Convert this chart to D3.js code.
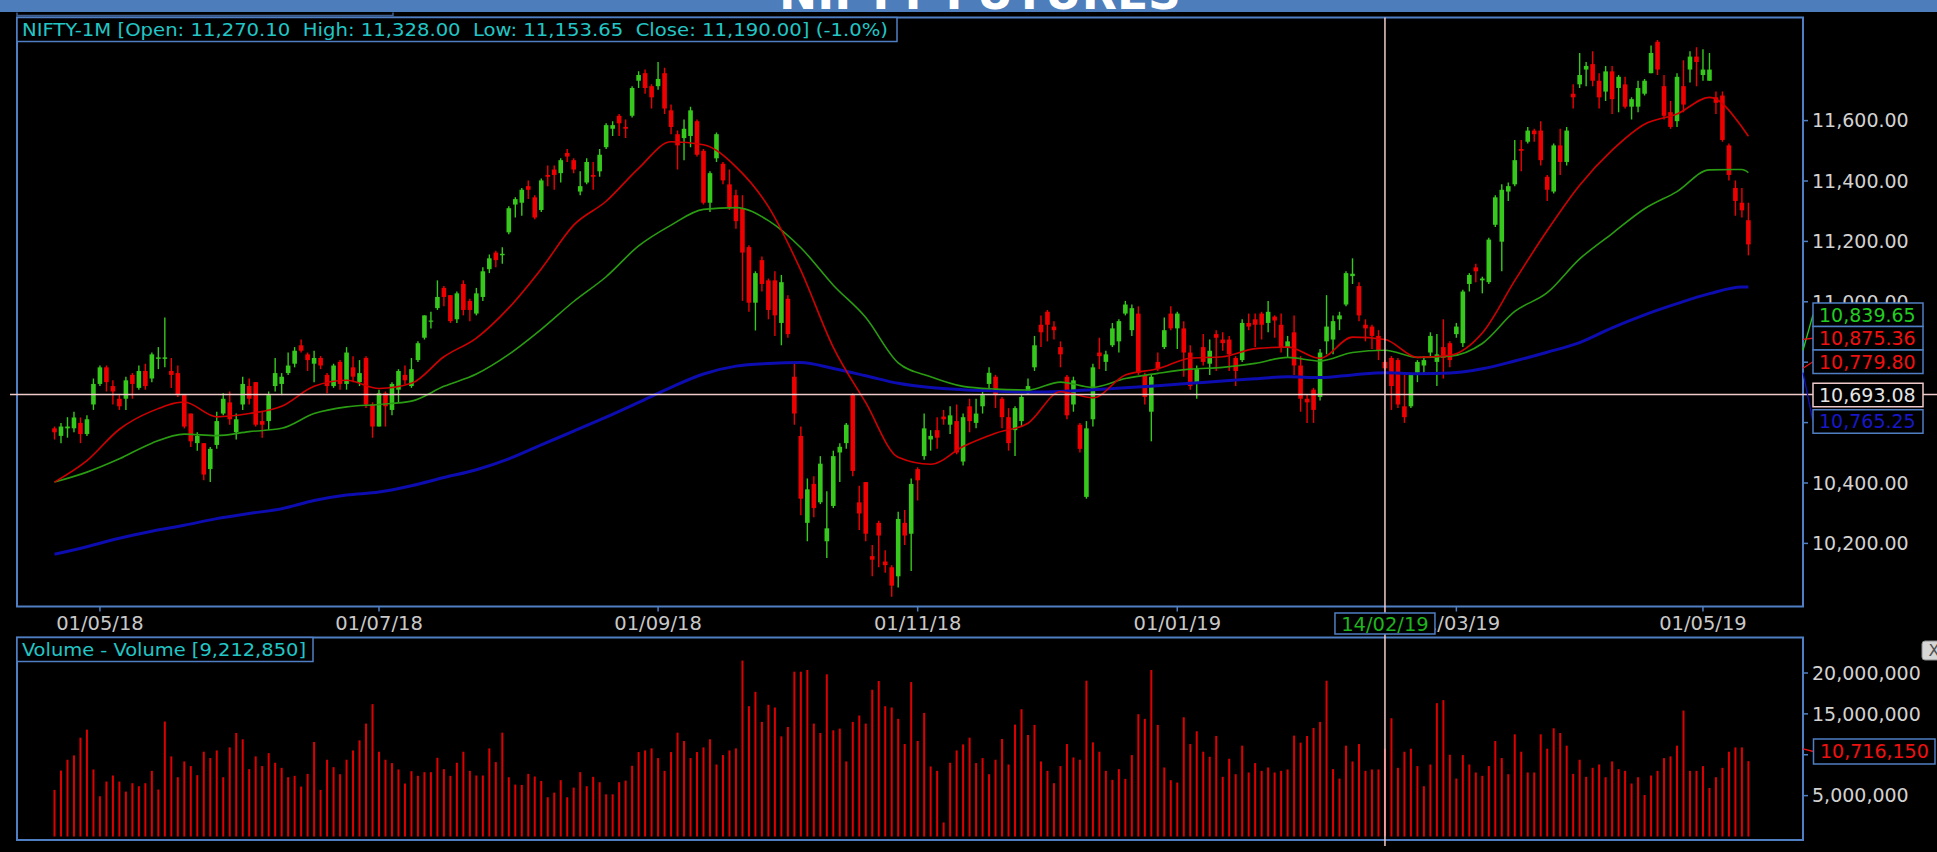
<!DOCTYPE html>
<html><head><meta charset="utf-8">
<script src="https://cdn.jsdelivr.net/npm/d3@7"></script>
<style>html,body{margin:0;padding:0;background:#000;overflow:hidden}</style>
</head><body>
<svg id="c" width="1937" height="852"></svg>
<script>
// ---------------- DATA ----------------
const opens = [10581,10556,10581,10581,10599,10562,10660,10728,10783,10721,10679,10679,10758,10715,10771,10746,10811,10811,10771,10764,10691,10630,10532,10532,10446,10526,10630,10667,10568,10660,10721,10734,10605,10605,10721,10728,10764,10795,10856,10826,10795,10814,10758,10721,10801,10728,10783,10734,
10814,10660,10587,10697,10642,10709,10758,10721,10807,10881,10934,10979,11046,11022,10942,11059,11003,10961,11016,11108,11163,11154,11230,11322,11328,11383,11346,11304,11420,11438,11426,11493,11469,11365,11395,11420,11432,11512,11573,11616,11579,11616,11732,11757,11714,11714,11757,
11634,11555,11542,11549,11598,11500,11328,11475,11457,11389,11353,11310,11181,10997,11138,11071,11071,10930,11010,10752,10556,10268,10397,10336,10207,10324,10501,10532,10691,10336,10403,10158,10268,10140,10121,10091,10268,10232,10446,10489,10544,10575,10620,10593,10605,10471,10654,10599,
10654,10728,10752,10679,10618,10575,10605,10697,10783,10924,10967,10918,10850,10752,10660,10593,10354,10611,10832,10801,10856,10869,10961,10906,10961,10758,10636,10801,10850,10961,10912,10912,10832,10734,10850,10795,10893,10875,10875,10814,10807,10930,10942,10961,10930,10951,10924,10850,
10899,10789,10679,10709,10685,10869,10875,10942,10991,11085,11052,10924,10918,10887,10801,10814,10807,10654,10654,10765,10789,10832,10801,10850,10863,10893,10863,11059,11114,11071,11065,11255,11199,11365,11389,11506,11530,11567,11567,11414,11365,11518,11463,11689,11720,11769,11787,
11732,11696,11763,11708,11720,11646,11646,11689,11757,11861,11714,11628,11598,11714,11769,11812,11751,11732,11677,11683,11518,11377,11328,11270.10];
const highs = [10587,10599,10618,10636,10617,10624,10746,10789,10789,10740,10691,10752,10764,10789,10795,10832,10850,10948,10814,10789,10691,10630,10568,10532,10519,10636,10697,10703,10630,10752,10746,10734,10636,10703,10814,10764,10832,10850,10875,10832,10838,10820,10764,10795,10807,10850,10820,10807,
10820,10667,10709,10703,10734,10777,10789,10814,10869,10955,10967,11071,11052,11022,11034,11071,11010,11046,11114,11157,11169,11181,11316,11346,11377,11402,11353,11408,11451,11451,11475,11506,11475,11432,11475,11463,11506,11591,11598,11622,11604,11714,11763,11769,11720,11794,11775,
11653,11567,11604,11646,11604,11506,11432,11561,11463,11438,11371,11353,11187,11101,11150,11077,11101,11089,11022,10801,10587,10415,10422,10489,10373,10507,10532,10599,10697,10391,10403,10195,10275,10177,10128,10305,10311,10415,10452,10630,10575,10618,10642,10654,10660,10630,10679,10679,
10709,10783,10758,10685,10648,10654,10691,10746,10887,10955,10973,10936,10869,10758,10752,10599,10605,10795,10881,10838,10930,10942,11003,10991,10985,10765,10758,10832,10948,10985,10967,10936,10856,10789,10893,10875,10906,10899,10887,10820,10942,10961,10961,10967,11003,10955,10961,10887,
10955,10820,10691,10715,10844,11022,10955,10967,11101,11144,11065,10942,10924,10906,10807,10820,10814,10758,10758,10807,10820,10899,10893,10942,10869,10930,11040,11095,11126,11083,11212,11353,11389,11395,11536,11536,11579,11573,11598,11420,11524,11573,11579,11720,11824,11794,11830,
11757,11781,11781,11751,11745,11677,11732,11738,11849,11867,11751,11665,11757,11800,11830,11843,11836,11824,11696,11696,11524,11402,11377,11328];
const lows = [10544,10532,10550,10568,10532,10556,10642,10721,10703,10660,10642,10642,10679,10709,10709,10734,10777,10783,10715,10685,10581,10519,10507,10409,10403,10513,10624,10593,10544,10642,10660,10587,10550,10575,10703,10691,10758,10783,10832,10771,10734,10777,10697,10715,10709,10709,10734,10721,
10648,10550,10587,10587,10624,10667,10728,10715,10801,10875,10912,10973,10985,10930,10930,10955,10936,10955,11003,11095,11114,11126,11224,11279,11285,11340,11273,11297,11383,11371,11395,11463,11426,11353,11389,11371,11414,11506,11549,11549,11542,11610,11708,11689,11640,11702,11622,
11555,11438,11469,11512,11481,11322,11297,11463,11389,11304,11242,11003,10967,10905,11034,10942,10887,10856,10881,10593,10293,10207,10287,10330,10152,10317,10403,10513,10422,10244,10207,10091,10121,10103,10023,10054,10195,10109,10342,10477,10507,10513,10593,10562,10495,10458,10568,10581,
10630,10709,10648,10581,10507,10489,10587,10691,10771,10850,10869,10875,10783,10611,10636,10501,10348,10587,10777,10771,10850,10832,10955,10887,10758,10660,10538,10771,10844,10906,10844,10752,10709,10679,10789,10758,10771,10838,10771,10721,10801,10906,10850,10875,10899,10881,10832,10814,
10758,10636,10599,10599,10673,10826,10826,10906,10985,11059,10936,10869,10844,10807,10775,10642,10648,10599,10648,10734,10765,10820,10721,10746,10783,10881,10850,11034,11065,11028,11059,11248,11101,11334,11383,11432,11524,11530,11451,11334,11359,11420,11451,11640,11708,11714,11714,
11640,11665,11622,11628,11640,11604,11628,11683,11757,11751,11604,11573,11579,11628,11726,11714,11732,11732,11622,11530,11402,11285,11279,11153.65];
const closes = [10568,10587,10587,10617,10562,10611,10728,10783,10734,10703,10654,10740,10728,10771,10721,10826,10816,10816,10758,10691,10587,10538,10556,10428,10513,10605,10679,10611,10611,10728,10679,10593,10593,10691,10764,10752,10789,10838,10838,10807,10814,10789,10721,10789,10728,10832,10752,10764,
10660,10587,10697,10654,10728,10771,10740,10777,10863,10955,10938,11016,11016,10936,11028,10973,10973,11028,11101,11144,11138,11159,11310,11340,11371,11371,11279,11402,11414,11420,11469,11481,11438,11383,11463,11414,11487,11585,11585,11591,11573,11708,11751,11708,11677,11738,11640,
11579,11518,11573,11634,11487,11328,11426,11555,11402,11310,11267,11163,10997,11095,11059,10973,10955,11065,10893,10630,10348,10379,10317,10464,10250,10489,10520,10593,10440,10299,10232,10146,10226,10128,10060,10281,10226,10397,10409,10581,10556,10550,10611,10624,10501,10618,10605,10630,
10691,10765,10691,10618,10532,10648,10685,10721,10856,10899,10924,10906,10826,10624,10740,10513,10581,10783,10820,10826,10912,10936,10991,10979,10765,10685,10752,10777,10906,10912,10961,10832,10721,10777,10801,10838,10881,10863,10826,10771,10930,10918,10924,10924,10967,10938,10850,10869,
10789,10679,10667,10642,10832,10918,10936,10955,11095,11093,10955,10912,10887,10838,10779.80,10721,10660,10618,10758,10801,10807,10887,10826,10814,10807,10918,11034,11089,11101,11077,11206,11346,11371,11383,11469,11500,11567,11555,11469,11371,11518,11463,11567,11677,11751,11781,11732,
11677,11763,11671,11745,11646,11671,11708,11732,11824,11769,11616,11579,11745,11653,11812,11794,11769,11769,11659,11536,11420,11334,11303,11190];
// volume in millions of contracts
const volumeM = [5.70,8.07,9.39,9.92,12.09,13.07,8.20,4.92,6.72,7.46,6.72,5.49,6.52,6.15,6.52,8.03,5.74,14.06,9.80,7.25,
9.18,8.61,7.50,10.37,9.59,10.53,7.25,10.90,12.66,11.89,8.24,9.80,8.61,10.20,9.02,8.40,7.25,7.42,6.11,7.66,
11.56,5.70,9.39,8.48,7.62,9.39,10.53,11.76,13.81,16.19,10.37,9.39,8.98,8.20,6.48,7.99,7.42,7.87,7.87,9.63,
8.24,7.42,9.02,10.37,8.03,7.46,7.46,10.78,9.10,12.70,7.25,6.35,6.31,7.66,7.34,6.80,4.80,5.37,6.89,4.80,
5.98,7.87,6.15,7.30,6.64,5.16,5.16,6.64,6.84,8.65,10.33,10.53,10.78,9.59,8.03,10.33,12.70,11.68,9.59,10.33,
10.90,11.89,8.81,9.96,10.53,10.78,21.52,15.94,17.70,14.02,16.11,15.78,12.25,13.40,20.16,20.16,20.37,13.81,12.66,19.84,
12.99,13.20,9.18,14.02,14.80,13.81,17.95,19.02,15.94,15.78,14.39,11.31,18.89,11.68,15.12,8.57,8.03,1.72,9.02,10.53,
11.27,12.09,8.98,9.59,7.62,9.39,11.93,8.81,13.69,15.57,12.42,13.65,9.18,8.03,6.52,8.61,11.31,9.67,9.39,19.06,
11.52,10.37,8.03,6.93,8.24,7.05,9.96,14.96,14.39,20.37,13.65,8.44,6.89,6.60,14.59,11.31,12.87,10.37,9.75,12.30,
7.30,9.51,7.62,11.11,7.83,8.98,8.03,8.44,7.83,8.03,8.20,12.34,11.48,12.30,13.28,14.02,19.06,8.24,7.09,11.11,
9.18,11.31,8.03,8.20,8.20,10.71615,14.47,8.40,10.37,10.74,8.61,6.15,8.81,16.31,16.68,10.00,7.09,9.96,8.81,7.83,
7.42,8.61,11.68,9.59,7.62,12.50,10.37,7.83,7.83,12.50,10.74,13.24,12.66,11.11,7.66,9.39,7.30,8.40,8.81,7.25,
9.18,8.24,8.03,6.48,7.25,5.08,7.46,8.03,9.59,9.80,11.11,15.41,8.03,8.03,8.61,5.94,7.25,8.40,10.37,10.90,
10.90,9.21285];
// moving averages read at every 5th candle
const maIdx = [0,5,10,15,20,25,30,35,40,45,50,55,60,65,70,75,80,85,90,95,100,105,110,115,120,125,130,135,140,145,150,155,160,165,170,175,180,185,190,195,200,205,210,215,220,225,230,235,240,245,250,255,260,261];
const maRed = [10403,10474,10578,10638,10668,10619,10630,10654,10720,10740,10713,10730,10818,10880,10980,11109,11254,11333,11442,11530,11520,11447,11315,11104,10849,10666,10485,10462,10521,10565,10598,10702,10682,10758,10778,10813,10818,10845,10850,10813,10883,10875.36,10816,10823,10897,11070,11236,11386,11502,11588,11622,11677,11579,11548];
const maGreen = [10403,10436,10480,10532,10562,10557,10570,10581,10630,10652,10660,10671,10720,10761,10826,10909,11001,11083,11185,11254,11306,11312,11269,11179,11055,10948,10798,10752,10720,10711,10708,10734,10717,10746,10763,10777,10783,10796,10816,10804,10832,10839.65,10816,10820,10862,10968,11030,11142,11226,11308,11365,11437,11438,11428];
const maBlue = [10164,10189,10217,10240,10260,10282,10299,10315,10342,10360,10370,10391,10418,10444,10480,10526,10572,10618,10667,10717,10761,10787,10796,10799,10779,10755,10730,10716,10709,10705,10701,10703,10709,10715,10722,10730,10738,10745,10752,10749,10758,10765.25,10762,10764,10778,10804,10833,10865,10914,10957,10994,11027,11049,11049];
const priceTicks = [10200,10400,10600,10800,11000,11200,11400,11600];
const volTicksM = [5,10,15,20];
const dateTickIdx = [7,50,93,133,173,216,254];
const dateTickLbl = ["01/05/18","01/07/18","01/09/18","01/11/18","01/01/19","01/03/19","01/05/19"];
const crossIdx = 205, crossPrice = 10693.08, crossDate = "14/02/19";
const title = "NIFTY FUTURES", symbol = "NIFTY-1M";

// ---------------- DRAWING ----------------
const W = 1937, H = 852;
const col = {bar:"#4d7dba", border:"#4f7fc2", up:"#36c81c", down:"#ee0000",
  maRed:"#d00000", maGreen:"#2a9c12", maBlue:"#0c0cb0", txt:"#d2d2d2",
  cyan:"#22c6c6", cross:"#f0caca", vol:"#dc0000"};
const P = {l:17, r:1803, t:17.5, b:606.5};
const V = {l:17, r:1803, t:637.5, b:840};
const n = closes.length;
const fmt2 = d3.format(",.2f"), fmt0 = d3.format(",");
const svg = d3.select("#c");
svg.append("rect").attr("width",W).attr("height",H).attr("fill","#000");

const x = d3.scaleLinear().domain([0, n-1]).range([54.5, 1748.4]);
const y = d3.scaleLinear().domain([10200, 11600]).range([543.4, 120.6]);
const yv = d3.scaleLinear().domain([0, 20]).range([836.5, 673]);

// top bar + title
svg.append("rect").attr("x",0).attr("y",0).attr("width",W).attr("height",12).attr("fill",col.bar);
svg.append("text").attr("x",980).attr("y",8.6).attr("text-anchor","middle")
  .attr("font-family","DejaVu Sans, Verdana, sans-serif").attr("font-weight","bold")
  .attr("font-size",44).attr("fill","#fff").attr("textLength",402).attr("lengthAdjust","spacingAndGlyphs").text(title);
svg.append("path").attr("d","M17,12.5V15.5H393V12.5").attr("fill","none").attr("stroke","#3f5f90").attr("stroke-width",1.5);

// panels
svg.append("rect").attr("x",P.l).attr("y",P.t).attr("width",P.r-P.l).attr("height",P.b-P.t)
  .attr("fill","#000").attr("stroke",col.border).attr("stroke-width",2);
svg.append("rect").attr("x",V.l).attr("y",V.t).attr("width",V.r-V.l).attr("height",V.b-V.t)
  .attr("fill","#000").attr("stroke",col.border).attr("stroke-width",2);
const defs = svg.append("defs");
defs.append("clipPath").attr("id","pc").append("rect").attr("x",P.l+1).attr("y",P.t+1).attr("width",P.r-P.l-2).attr("height",P.b-P.t-2);
defs.append("clipPath").attr("id","vc").append("rect").attr("x",V.l+1).attr("y",V.t+1).attr("width",V.r-V.l-2).attr("height",V.b-V.t-2);

const font = "DejaVu Sans, Verdana, sans-serif";
// price axis
priceTicks.forEach(t => {
  svg.append("line").attr("x1",P.r).attr("x2",P.r+5).attr("y1",y(t)).attr("y2",y(t)).attr("stroke",col.border).attr("stroke-width",1.5);
  svg.append("text").attr("x",1812).attr("y",y(t)).attr("dy","0.36em").attr("font-family",font).attr("font-size",19)
    .attr("fill",col.txt).text(fmt2(t));
});
// date axis
dateTickIdx.forEach((d,k) => {
  svg.append("line").attr("x1",x(d)).attr("x2",x(d)).attr("y1",P.b).attr("y2",P.b+5).attr("stroke",col.border).attr("stroke-width",1.5);
  svg.append("text").attr("x",x(d)).attr("y",630).attr("text-anchor","middle").attr("font-family",font).attr("font-size",19.5)
    .attr("fill","#c8c8c8").text(dateTickLbl[k]);
});

// candles
const cg = svg.append("g").attr("clip-path","url(#pc)");
const idx = d3.range(n);
const cc = i => closes[i] >= opens[i] ? col.up : col.down;
cg.selectAll("line.w").data(idx).join("line").attr("class","w")
  .attr("x1",i=>x(i)).attr("x2",i=>x(i)).attr("y1",i=>y(highs[i])).attr("y2",i=>y(lows[i]))
  .attr("stroke",cc).attr("stroke-width",1.4);
cg.selectAll("rect.b").data(idx).join("rect").attr("class","b")
  .attr("x",i=>x(i)-2.3).attr("width",4.6)
  .attr("y",i=>y(Math.max(opens[i],closes[i])))
  .attr("height",i=>Math.max(1.2, Math.abs(y(opens[i])-y(closes[i]))))
  .attr("fill",cc);

// moving averages
const mline = arr => d3.line().x((d,k)=>x(maIdx[k])).y(d=>y(d)).curve(d3.curveMonotoneX)(arr);
cg.append("path").attr("d",mline(maBlue)).attr("fill","none").attr("stroke",col.maBlue).attr("stroke-width",3);
cg.append("path").attr("d",mline(maGreen)).attr("fill","none").attr("stroke",col.maGreen).attr("stroke-width",1.6);
cg.append("path").attr("d",mline(maRed)).attr("fill","none").attr("stroke",col.maRed).attr("stroke-width",1.6);

// volume
const vg = svg.append("g").attr("clip-path","url(#vc)");
vg.selectAll("rect").data(idx).join("rect")
  .attr("x",i=>x(i)-1).attr("width",2).attr("y",i=>yv(volumeM[i])).attr("height",i=>yv(0)-yv(volumeM[i])).attr("fill",col.vol);
volTicksM.forEach(t => {
  svg.append("line").attr("x1",V.r).attr("x2",V.r+5).attr("y1",yv(t)).attr("y2",yv(t)).attr("stroke",col.border).attr("stroke-width",1.5);
  svg.append("text").attr("x",1812).attr("y",yv(t)).attr("dy","0.36em").attr("font-family",font).attr("font-size",19)
    .attr("fill",col.txt).text(fmt0(t*1e6));
});

// crosshair
const cx = x(crossIdx), cy = y(crossPrice);
svg.append("line").attr("x1",cx).attr("x2",cx).attr("y1",P.t).attr("y2",846).attr("stroke",col.cross).attr("stroke-width",1.5);
svg.append("line").attr("x1",10).attr("x2",W).attr("y1",cy).attr("y2",cy).attr("stroke",col.cross).attr("stroke-width",1.5);

// crosshair date box
svg.append("rect").attr("x",cx-50).attr("y",613).attr("width",100).attr("height",21).attr("fill","#000").attr("stroke",col.border).attr("stroke-width",1.5);
svg.append("text").attr("x",cx).attr("y",623.5).attr("dy","0.36em").attr("text-anchor","middle").attr("font-family",font).attr("font-size",19.5)
  .attr("fill","#1fb41f").text(crossDate);

// value boxes at crosshair
const k205 = maIdx.indexOf(crossIdx);
const boxH = 23.5, bx = 1813, bw = 110;
const stack = [
  {v: maGreen[k205], c: "#22cc22", lc: "#22cc22"},
  {v: maRed[k205], c: "#ee1111", lc: "#ee1111"},
  {v: closes[crossIdx], c: "#ee1111", lc: "#ee1111"}
];
const stackBottom = 373.5;
stack.forEach((s,k) => { s.top = stackBottom - (stack.length-k)*boxH; });
const crossTop = cy - boxH/2 + 0.5;
const blueBox = {v: maBlue[k205], c: "#1818c8", lc: "#1010c0", top: crossTop + boxH + 3};
[...stack, blueBox].forEach(s => {
  svg.append("line").attr("x1",P.r).attr("y1",y(s.v)).attr("x2",bx).attr("y2",s.top+boxH/2).attr("stroke",s.lc).attr("stroke-width",1.3);
});
[...stack, blueBox].forEach(s => {
  svg.append("rect").attr("x",bx).attr("y",s.top).attr("width",bw).attr("height",boxH).attr("fill","#000").attr("stroke",col.border).attr("stroke-width",1.5);
  svg.append("text").attr("x",bx+6).attr("y",s.top+boxH/2).attr("dy","0.36em").attr("font-family",font).attr("font-size",19).attr("fill",s.c).text(fmt2(s.v));
});
svg.append("rect").attr("x",bx).attr("y",crossTop).attr("width",bw).attr("height",boxH).attr("fill","#000").attr("stroke",col.cross).attr("stroke-width",1.5);
svg.append("text").attr("x",bx+6).attr("y",crossTop+boxH/2).attr("dy","0.36em").attr("font-family",font).attr("font-size",19).attr("fill","#e4e4e4").text(fmt2(crossPrice));

// volume value box
const cv = volumeM[crossIdx];
svg.append("line").attr("x1",V.r).attr("y1",yv(cv)).attr("x2",1813.5).attr("y2",751.5).attr("stroke","#ee1111").attr("stroke-width",1.3);
svg.append("rect").attr("x",1813.5).attr("y",739).attr("width",121.5).attr("height",25).attr("fill","#000").attr("stroke",col.border).attr("stroke-width",1.5);
svg.append("text").attr("x",1820).attr("y",751.5).attr("dy","0.36em").attr("font-family",font).attr("font-size",19).attr("fill","#ee1111").text(fmt0(Math.round(cv*1e6)));

// close button (partly off-screen)
svg.append("rect").attr("x",1922).attr("y",641).attr("width",24).attr("height",19).attr("rx",3).attr("fill","#d6d6d6").attr("stroke","#8a8a8a");
svg.append("text").attr("x",1934).attr("y",650.5).attr("dy","0.36em").attr("text-anchor","middle").attr("font-family",font).attr("font-size",16).attr("fill","#505050").text("X");

// legends
const lo = opens[n-1], lh = highs[n-1], ll = lows[n-1], lc = closes[n-1];
const pct = (lc - closes[n-2]) / closes[n-2] * 100;
const pctTxt = (pct < 0 ? "-" : "") + Math.abs(pct).toFixed(1);
const legTxt = `${symbol} [Open: ${fmt2(lo)}  High: ${fmt2(lh)}  Low: ${fmt2(ll)}  Close: ${fmt2(lc)}] (${pctTxt}%)`;
svg.append("rect").attr("x",P.l).attr("y",P.t).attr("width",880).attr("height",24).attr("fill","#000").attr("stroke",col.border).attr("stroke-width",1.5);
svg.append("text").attr("x",22).attr("y",35.5).attr("font-family","DejaVu Sans Condensed, DejaVu Sans, sans-serif").attr("font-size",18)
  .style("white-space","pre").attr("fill",col.cyan).attr("textLength",866).attr("lengthAdjust","spacingAndGlyphs").text(legTxt);
const volTxt = `Volume - Volume [${fmt0(Math.round(volumeM[n-1]*1e6))}]`;
svg.append("rect").attr("x",V.l).attr("y",V.t).attr("width",296).attr("height",24).attr("fill","#000").attr("stroke",col.border).attr("stroke-width",1.5);
svg.append("text").attr("x",22).attr("y",655.5).attr("font-family","DejaVu Sans Condensed, DejaVu Sans, sans-serif").attr("font-size",18)
  .attr("fill",col.cyan).attr("textLength",284).attr("lengthAdjust","spacingAndGlyphs").text(volTxt);
</script>
</body></html>
